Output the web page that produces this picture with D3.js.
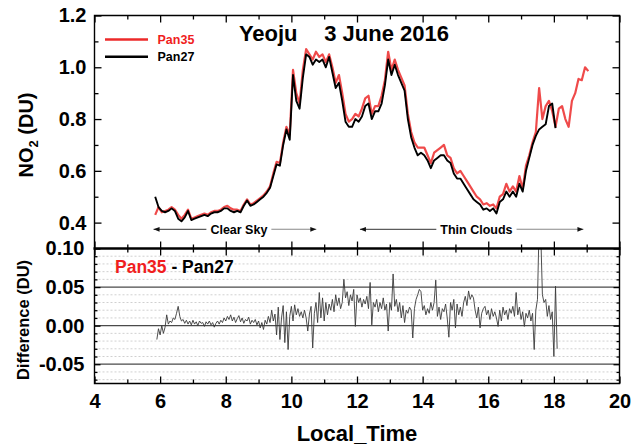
<!DOCTYPE html>
<html>
<head>
<meta charset="utf-8">
<script src="https://cdn.jsdelivr.net/npm/d3@7"></script>
<style>
  html, body { margin: 0; padding: 0; background: #fff; }
  svg { display: block; font-family: "Liberation Sans", Arial, sans-serif; font-weight: bold; }
</style>
</head>
<body>
<svg id="chart" width="633" height="448"></svg>
<script>
// Total NO2 column at Yeoju on 3 June 2016, two Pandora instruments.
// Column readings, one every 6 minutes starting at 05:51 local time.
const columnStart = 5.85;
const columnStep = 0.1;

const pan35 = [
  0.43, 0.46, 0.44, 0.445, 0.45, 0.46, 0.45, 0.43, 0.415, 0.43,
  0.45, 0.415, 0.42, 0.425, 0.43, 0.435, 0.43, 0.44, 0.445, 0.445,
  0.45, 0.46, 0.465, 0.455, 0.45, 0.45, 0.445, 0.47, 0.49, 0.47,
  0.475, 0.485, 0.495, 0.505, 0.52, 0.54, 0.59, 0.635, 0.63, 0.71,
  0.77, 0.74, 0.99, 0.90, 0.86, 0.99, 1.07, 1.05, 1.03, 1.06,
  1.04, 1.05, 1.02, 1.05, 1.00, 0.94, 0.97, 0.90, 0.82, 0.79,
  0.80, 0.82, 0.81, 0.84, 0.88, 0.89, 0.82, 0.85, 0.85, 0.89,
  0.95, 1.06, 0.99, 1.03, 0.99, 0.96, 0.93, 0.82, 0.75, 0.71,
  0.69, 0.69, 0.69, 0.66, 0.63, 0.67, 0.68, 0.69, 0.70, 0.66,
  0.65, 0.61, 0.59, 0.60, 0.58, 0.56, 0.54, 0.52, 0.50, 0.49,
  0.47, 0.475, 0.465, 0.47, 0.455, 0.50, 0.51, 0.55, 0.52, 0.54,
  0.52, 0.58, 0.53, 0.62, 0.66, 0.71, 0.75, 0.92, 0.80, 0.85,
  0.87, 0.83, 0.77, 0.84, 0.85, 0.80, 0.77, 0.87, 0.90, 0.955,
  0.95, 1.00, 0.985
];

const pan27 = [
  0.50, 0.46, 0.445, 0.44, 0.445, 0.455, 0.445, 0.415, 0.405, 0.42,
  0.445, 0.41, 0.415, 0.42, 0.425, 0.43, 0.425, 0.435, 0.44, 0.44,
  0.445, 0.455, 0.455, 0.445, 0.44, 0.445, 0.44, 0.465, 0.485, 0.465,
  0.47, 0.48, 0.49, 0.50, 0.515, 0.535, 0.58, 0.625, 0.62, 0.70,
  0.76, 0.72, 0.97, 0.87, 0.84, 0.96, 1.05, 1.04, 1.01, 1.03,
  1.02, 1.03, 1.00, 1.04, 0.98, 0.92, 0.94, 0.87, 0.79, 0.77,
  0.77, 0.80, 0.79, 0.81, 0.85, 0.86, 0.80, 0.83, 0.83, 0.86,
  0.93, 1.03, 0.97, 1.01, 0.97, 0.94, 0.91, 0.80, 0.73, 0.69,
  0.66, 0.67, 0.66, 0.64, 0.61, 0.64, 0.65, 0.66, 0.66, 0.64,
  0.63, 0.59, 0.57, 0.57, 0.55, 0.53, 0.51, 0.49, 0.48, 0.47,
  0.45, 0.455, 0.445, 0.455, 0.435, 0.48, 0.49, 0.52, 0.50, 0.52,
  0.50, 0.55, 0.52, 0.60, 0.65, 0.70, 0.735, 0.76, 0.77, 0.78,
  0.85, 0.86, 0.765
];

// Pan35 minus Pan27, one value every 3 minutes starting at 05:54.
const diffStart = 5.90;
const diffStep = 0.05;
const pan35MinusPan27 = [
  -0.018, -0.004, -0.012, 0.000, -0.010, -0.002, 0.014, 0.002, 0.006, 0.004, 0.010, 0.008, 0.016, 0.025, 0.012, 0.006, 0.008, 0.003, 0.007, 0.002,
  0.006, 0.001, 0.007, 0.002, 0.005, 0.000, 0.006, 0.003, 0.004, -0.001, 0.005, 0.002, 0.006, 0.001, 0.004, -0.002, 0.003, 0.006, 0.002, 0.007,
  0.004, 0.010, 0.006, 0.012, 0.008, 0.014, 0.006, 0.011, 0.004, 0.009, 0.013, 0.005, 0.010, 0.003, 0.008, 0.006, 0.011, 0.002, 0.007, 0.004,
  0.008, 0.001, 0.006, -0.003, 0.004, -0.005, 0.007, 0.002, 0.012, 0.004, 0.020, 0.006, 0.015, -0.012, 0.024, -0.018, 0.010, 0.026, -0.022, 0.018,
  -0.031, 0.012, 0.025, 0.006, 0.027, 0.014, 0.022, 0.012, 0.018, 0.010, 0.020, 0.010, -0.007, 0.015, 0.025, -0.029, 0.016, 0.030, 0.004, 0.043,
  0.010, 0.036, 0.006, 0.030, 0.014, 0.028, 0.020, 0.034, 0.018, 0.040, 0.026, 0.036, 0.022, 0.030, 0.060, 0.036, 0.044, 0.026, 0.040, 0.032,
  0.047, -0.001, 0.040, 0.030, 0.036, 0.024, 0.034, 0.028, 0.038, 0.022, 0.056, 0.001, 0.030, 0.024, 0.034, 0.018, 0.030, 0.022, 0.036, 0.020,
  0.028, -0.007, 0.030, 0.020, 0.067, 0.025, 0.034, 0.018, 0.030, 0.010, 0.026, 0.004, 0.020, 0.016, 0.024, 0.020, -0.016, 0.022, 0.034, 0.040,
  0.047, 0.044, 0.020, 0.026, 0.014, 0.022, 0.016, 0.030, 0.020, 0.030, 0.059, 0.012, 0.024, 0.008, 0.022, 0.018, 0.028, 0.010, -0.015, 0.030,
  0.020, 0.034, -0.003, 0.028, 0.014, 0.024, 0.012, 0.030, 0.038, 0.026, 0.045, 0.034, 0.040, 0.036, 0.020, 0.010, 0.024, -0.003, 0.016, 0.022,
  0.025, 0.014, 0.020, 0.008, 0.022, 0.012, 0.018, 0.010, -0.001, 0.020, 0.006, 0.024, 0.014, 0.020, 0.008, 0.022, 0.016, 0.025, 0.012, 0.043,
  0.014, 0.024, 0.008, 0.018, -0.001, 0.016, 0.010, 0.020, 0.006, 0.016, -0.031, 0.020, 0.034, 0.130, 0.120, 0.040, 0.030, 0.034, 0.012, 0.026,
  0.008, 0.018, -0.040, 0.051, -0.030
];

const timeTicks = [4, 6, 8, 10, 12, 14, 16, 18, 20];
const timeMinorTicks = [5, 7, 9, 11, 13, 15, 17, 19];
const columnTicks = [0.4, 0.6, 0.8, 1.0, 1.2];
const columnMinorTicks = [0.5, 0.7, 0.9, 1.1];
const diffTicks = [-0.05, 0.00, 0.05, 0.10];
const diffMinorTicks = [-0.07, -0.06, -0.04, -0.03, -0.02, -0.01, 0.01, 0.02, 0.03, 0.04, 0.06, 0.07, 0.08, 0.09];

const skyPeriods = [
  { label: "Clear Sky", from: 5.8, to: 10.76, mid: 8.4 },
  { label: "Thin Clouds", from: 12.09, to: 18.9, mid: 15.64 }
];

const seriesNames = ["Pan35", "Pan27"];

// ---------------------------------------------------------------- layout
const RED = "#ec2a2a";
const svg = d3.select("#chart");
const plotL = 94.5, plotR = 619.5, plotT = 15.5, plotM = 248.5, plotB = 383.5;

const x = d3.scaleLinear().domain([4, 20]).range([plotL, plotR]);
const yCol = d3.scaleLinear().domain([0.3, 1.2]).range([plotM, plotT]);
const yDiff = d3.scaleLinear().domain([-0.075, 0.10]).range([plotB, plotM]);

const defs = svg.append("defs");
defs.append("clipPath").attr("id", "clip-col")
  .append("rect").attr("x", plotL).attr("y", plotT).attr("width", plotR - plotL).attr("height", plotM - plotT);
defs.append("clipPath").attr("id", "clip-diff")
  .append("rect").attr("x", plotL).attr("y", plotM).attr("width", plotR - plotL).attr("height", plotB - plotM);
defs.append("marker").attr("id", "arrowhead")
  .attr("viewBox", "0 0 10 10").attr("refX", 10).attr("refY", 5)
  .attr("markerWidth", 9).attr("markerHeight", 6).attr("markerUnits", "userSpaceOnUse")
  .attr("orient", "auto-start-reverse")
  .append("path").attr("d", "M0,1 L10,5 L0,9 Z").attr("fill", "#111");

// ---------------------------------------------------------------- grid of the difference panel
const grid = svg.append("g");
grid.selectAll("line.minor").data(diffMinorTicks).join("line")
  .attr("x1", plotL).attr("x2", plotR)
  .attr("y1", d => yDiff(d)).attr("y2", d => yDiff(d))
  .attr("stroke", "#c4c4c4").attr("stroke-width", 0.8).attr("stroke-dasharray", "2,2");
grid.selectAll("line.major").data([-0.05, 0, 0.05]).join("line")
  .attr("x1", plotL).attr("x2", plotR)
  .attr("y1", d => yDiff(d)).attr("y2", d => yDiff(d))
  .attr("stroke", "#4a4a4a").attr("stroke-width", 1.3);

// ---------------------------------------------------------------- series
const colLine = d3.line()
  .x((d, i) => x(columnStart + i * columnStep))
  .y(d => yCol(d));

const plotCol = svg.append("g").attr("clip-path", "url(#clip-col)");
plotCol.append("path").datum(pan35)
  .attr("d", colLine).attr("fill", "none")
  .attr("stroke", RED).attr("stroke-opacity", 0.85).attr("stroke-width", 2.2)
  .attr("stroke-linejoin", "round");
plotCol.append("path").datum(pan27)
  .attr("d", colLine).attr("fill", "none")
  .attr("stroke", "#000").attr("stroke-width", 1.9)
  .attr("stroke-linejoin", "round");

const diffLine = d3.line()
  .x((d, i) => x(diffStart + i * diffStep))
  .y(d => yDiff(d));
svg.append("g").attr("clip-path", "url(#clip-diff)")
  .append("path").datum(pan35MinusPan27)
  .attr("d", diffLine).attr("fill", "none")
  .attr("stroke", "#3a3a3a").attr("stroke-width", 0.9);

// ---------------------------------------------------------------- axes
function styleAxis(g, labelSize) {
  g.select(".domain").remove();
  g.selectAll(".tick line").attr("stroke", "#000").attr("stroke-width", 1.3);
  g.selectAll(".tick text")
    .attr("fill", "#000")
    .style("font-family", '"Liberation Sans", Arial, sans-serif')
    .style("font-weight", "bold")
    .style("font-size", labelSize + "px");
}
function addAxis(axis, transform, labelSize) {
  svg.append("g").attr("transform", transform).call(axis).call(g => styleAxis(g, labelSize));
}
const fmt1 = d => d.toFixed(1);
const fmt2 = d => d.toFixed(2);

// column panel
addAxis(d3.axisLeft(yCol).tickValues(columnTicks).tickSize(-7).tickPadding(8).tickFormat(fmt1), `translate(${plotL},0)`, 20);
addAxis(d3.axisLeft(yCol).tickValues(columnMinorTicks).tickSize(-4).tickFormat(""), `translate(${plotL},0)`, 20);
addAxis(d3.axisRight(yCol).tickValues(columnTicks).tickSize(-7).tickFormat(""), `translate(${plotR},0)`, 20);
addAxis(d3.axisRight(yCol).tickValues(columnMinorTicks).tickSize(-4).tickFormat(""), `translate(${plotR},0)`, 20);
addAxis(d3.axisTop(x).tickValues(timeTicks).tickSize(-7).tickFormat(""), `translate(0,${plotT})`, 20);
addAxis(d3.axisTop(x).tickValues(timeMinorTicks).tickSize(-4).tickFormat(""), `translate(0,${plotT})`, 20);
addAxis(d3.axisBottom(x).tickValues(timeTicks).tickSize(-7).tickFormat(""), `translate(0,${plotM})`, 20);
addAxis(d3.axisBottom(x).tickValues(timeMinorTicks).tickSize(-4).tickFormat(""), `translate(0,${plotM})`, 20);

// difference panel
addAxis(d3.axisTop(x).tickValues(timeTicks).tickSize(-7).tickFormat(""), `translate(0,${plotM})`, 20);
addAxis(d3.axisTop(x).tickValues(timeMinorTicks).tickSize(-4).tickFormat(""), `translate(0,${plotM})`, 20);
addAxis(d3.axisBottom(x).tickValues(timeTicks).tickSize(-7).tickPadding(10).tickFormat(d3.format("d")), `translate(0,${plotB})`, 20);
addAxis(d3.axisBottom(x).tickValues(timeMinorTicks).tickSize(-4).tickFormat(""), `translate(0,${plotB})`, 20);
addAxis(d3.axisLeft(yDiff).tickValues(diffTicks).tickSize(-6).tickPadding(10).tickFormat(fmt2), `translate(${plotL},0)`, 20);
addAxis(d3.axisLeft(yDiff).tickValues(diffMinorTicks).tickSize(-3).tickFormat(""), `translate(${plotL},0)`, 20);
addAxis(d3.axisRight(yDiff).tickValues(diffTicks).tickSize(-6).tickFormat(""), `translate(${plotR},0)`, 20);
addAxis(d3.axisRight(yDiff).tickValues(diffMinorTicks).tickSize(-3).tickFormat(""), `translate(${plotR},0)`, 20);

// frames
const frame = svg.append("g").attr("fill", "none").attr("stroke", "#000");
frame.append("path")
  .attr("d", `M${plotL},${plotM}V${plotT}H${plotR}V${plotM}`)
  .attr("stroke-width", 1.4);
frame.append("path")
  .attr("d", `M${plotL},${plotM}V${plotB}H${plotR}V${plotM}`)
  .attr("stroke-width", 1.4);
frame.append("line")
  .attr("x1", plotL - 1).attr("x2", plotR + 1).attr("y1", plotM).attr("y2", plotM)
  .attr("stroke-width", 2.6);

// ---------------------------------------------------------------- texts
svg.append("text").attr("x", x(8.4)).attr("y", 41)
  .style("font-size", "22px").text("Yeoju");
svg.append("text").attr("x", x(11.0)).attr("y", 41)
  .style("font-size", "22px").text("3 June 2016");

// legend
const legend = svg.append("g");
const legendColors = [RED, "#000"];
seriesNames.forEach((name, i) => {
  const ly = 39.5 + i * 17.3;
  legend.append("line").attr("x1", 105).attr("x2", 148).attr("y1", ly).attr("y2", ly)
    .attr("stroke", legendColors[i]).attr("stroke-width", 2.4);
  legend.append("text").attr("x", 157.5).attr("y", ly + 4.6)
    .attr("fill", i === 0 ? "#f01e1e" : "#000")
    .style("font-size", "12.5px").text(name);
});

// sky condition spans
const sky = svg.append("g");
skyPeriods.forEach(p => {
  const t = sky.append("text").attr("x", x(p.mid)).attr("y", 233.7)
    .attr("text-anchor", "middle").style("font-size", "12.5px").text(p.label);
  const w = t.node().getComputedTextLength();
  const ay = 229.3;
  sky.append("line")
    .attr("x1", x(p.mid) - w / 2 - 4).attr("x2", x(p.from))
    .attr("y1", ay).attr("y2", ay)
    .attr("stroke", "#333").attr("stroke-width", 1)
    .attr("marker-end", "url(#arrowhead)");
  sky.append("line")
    .attr("x1", x(p.mid) + w / 2 + 4).attr("x2", x(p.to))
    .attr("y1", ay).attr("y2", ay)
    .attr("stroke", "#888").attr("stroke-width", 1.1)
    .attr("marker-end", "url(#arrowhead)");
});

// difference label
const diffLabel = svg.append("text").attr("x", 115).attr("y", 273.3).style("font-size", "17.5px");
diffLabel.append("tspan").attr("fill", "#f01e1e").text(seriesNames[0]);
diffLabel.append("tspan").attr("fill", "#000").text(" - " + seriesNames[1]);

// axis titles
const yTitle = svg.append("text")
  .attr("transform", `translate(33,${(plotT + plotM) / 2 + 3}) rotate(-90)`)
  .attr("text-anchor", "middle").style("font-size", "20px");
yTitle.append("tspan").text("NO");
yTitle.append("tspan").attr("dy", 5).style("font-size", "13px").text("2");
yTitle.append("tspan").attr("dy", -5).text(" (DU)");

svg.append("text")
  .attr("transform", `translate(29,${(plotM + plotB) / 2 + 4}) rotate(-90)`)
  .attr("text-anchor", "middle").style("font-size", "16.5px").text("Difference (DU)");

svg.append("text").attr("x", (plotL + plotR) / 2).attr("y", 441)
  .attr("text-anchor", "middle").style("font-size", "22px").text("Local_Time");
</script>
</body>
</html>
